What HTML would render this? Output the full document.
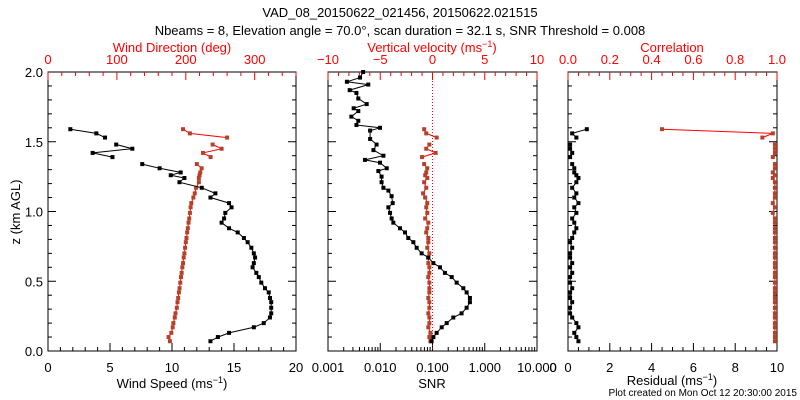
<!DOCTYPE html>
<html><head><meta charset="utf-8"><style>
body{margin:0;background:#fff;}
svg{display:block;font-family:"Liberation Sans",sans-serif;}
</style></head><body>
<svg id="c" width="800" height="400" xmlns="http://www.w3.org/2000/svg">
<text x="400" y="17" font-size="13" text-anchor="middle">VAD_08_20150622_021456, 20150622.021515</text>
<text x="400" y="35" font-size="13" text-anchor="middle">Nbeams = 8, Elevation angle = 70.0°, scan duration = 32.1 s, SNR Threshold = 0.008</text>
<text x="20" y="212" font-size="13" text-anchor="middle" transform="rotate(-90 20 212)">z (km AGL)</text>
<text x="797" y="396" font-size="10" text-anchor="end">Plot created on Mon Oct 12 20:30:00 2015</text>
</svg>
<script>
const heights=[0.07,0.10,0.13,0.17,0.20,0.24,0.27,0.31,0.35,0.38,0.42,0.45,0.49,0.53,0.56,0.60,0.63,0.67,0.70,0.74,0.78,0.81,0.85,0.88,0.92,0.95,0.99,1.03,1.06,1.10,1.13,1.17,1.21,1.24,1.26,1.28,1.31,1.34,null,1.39,1.42,1.45,1.48,null,1.53,1.56,1.59];
const windSpeed=[13.1,13.7,14.6,16.6,17.4,17.9,18.0,18.0,18.0,17.9,17.8,17.5,17.2,17.0,16.8,16.5,16.6,16.7,16.6,16.4,16.1,15.8,15.3,14.6,14.0,14.2,14.3,14.8,14.6,13.1,13.5,12.4,10.6,11.0,9.9,10.7,9.0,7.6,null,5.2,3.6,6.8,5.5,null,4.6,3.9,1.8];
const windDir=[177,175,179,181,182,184,185,187,188,189,190,191,192,193,194,195,196,197,198,199,200,201,202,203,204,205,206,207,208,211,213,215,219,219,220,221,223,216,null,236,225,252,239,null,260,206,196];
const vertVel=[-0.2,-0.3,-0.2,-0.4,-0.3,-0.3,-0.4,-0.3,-0.3,-0.4,-0.3,-0.3,-0.3,-0.4,-0.3,-0.3,-0.4,-0.4,-0.3,-0.5,-0.4,-0.4,-0.6,-0.5,-0.4,-0.7,-0.5,-0.6,-0.5,-0.7,-0.9,-0.6,-0.8,-0.5,-0.7,-0.6,-0.5,-0.8,null,-1.0,0.3,-0.6,-0.3,null,0.4,-0.6,-0.8];
const residual=[0.5,0.4,0.3,0.5,0.4,0.2,0.1,0.1,0.2,0.1,0.1,0.2,0.1,0.1,0.2,0.1,0.2,0.1,0.1,0.2,0.1,0.2,0.3,0.4,0.3,0.2,0.4,0.3,0.5,0.3,0.4,0.2,0.4,0.5,0.4,0.3,0.3,0.2,null,0.1,0.2,0.1,0.1,null,0.4,0.2,0.9];
const correlation=[0.99,0.99,0.99,0.99,0.99,0.99,0.99,0.99,0.99,0.99,0.99,0.99,0.99,0.99,0.99,0.99,0.99,0.99,0.99,0.99,0.99,0.99,0.99,0.99,0.99,0.99,0.98,0.99,0.98,0.99,0.99,0.99,0.99,0.98,0.99,0.98,0.99,0.99,null,0.98,0.99,0.99,0.99,null,0.93,0.98,0.45];
const snrHeights=[0.07,0.10,0.13,0.17,0.20,0.24,0.27,0.31,0.35,0.38,0.42,0.45,0.49,0.53,0.56,0.60,0.63,0.67,0.70,0.74,0.78,0.81,0.85,0.88,0.92,0.95,0.99,1.03,1.06,1.11,1.15,1.17,1.21,1.25,1.29,1.31,1.35,1.37,1.40,1.44,1.48,1.52,1.58,1.60,1.62,1.65,1.68,1.72,1.74,1.77,1.81,1.85,1.87,1.91,1.93,1.96,2.0];
const snr=[0.096,0.104,0.12,0.15,0.187,0.25,0.36,0.45,0.52,0.52,0.45,0.389,0.29,0.233,0.173,0.139,0.104,0.083,0.062,0.0498,0.043,0.0344,0.0298,0.0239,0.0178,0.0165,0.0154,0.0143,0.0173,0.0165,0.0143,0.0115,0.0106,0.0106,0.0092,0.0133,0.0099,0.0051,0.0115,0.0074,0.0085,0.0064,0.0064,0.0099,0.0035,0.0038,0.0028,0.0038,0.0031,0.0055,0.0038,0.0035,0.0026,0.0059,0.0023,0.0041,0.0047];

const NS='http://www.w3.org/2000/svg';
const svg=document.getElementById('c');
const Y0=351,Y1=72;
function yS(z){return Y0-(z-0)/(2-0)*(Y0-Y1);}
function mk(tag,attrs,parent){const e=document.createElementNS(NS,tag);for(const k in attrs)e.setAttribute(k,attrs[k]);(parent||svg).appendChild(e);return e;}
function linX(a,b,x0,x1){return v=>x0+(v-a)/(b-a)*(x1-x0);}
function logX(a,b,x0,x1){return v=>x0+(Math.log10(v)-Math.log10(a))/(Math.log10(b)-Math.log10(a))*(x1-x0);}

function frame(name,x0,x1){
  const r=mk('rect',{x:x0,y:Y1,width:x1-x0,height:Y0-Y1,fill:'none',stroke:'#000','stroke-width':1});
  
  
  for(let i=0;i<=20;i++){const z=i*0.1;const y=yS(z);const L=(i%5==0)?8:4;
    mk('line',{x1:x0,y1:y,x2:x0+L,y2:y,stroke:'#000'});mk('line',{x1:x1,y1:y,x2:x1-L,y2:y,stroke:'#000'});}
}
function xTicks(vals,sc,major,isTop,color){
  const y=isTop?Y1:Y0,d=isTop?1:-1;
  vals.forEach(v=>{const x=sc(v);const L=major(v)?8:4;mk('line',{x1:x,y1:y,x2:x,y2:y+d*L,stroke:color});});
}
function labels(vals,txt,sc,y,color,name){
  vals.forEach((v,i)=>{const t=mk('text',{x:sc(v),y:y,'font-size':13,'text-anchor':'middle',fill:color});t.textContent=txt[i];
    
    });
}
function series(zs,vals,sc,lineCol,markCol,name,drawLine){
  const g=mk('g',{});
  
  
  let seg=[];
  const flush=()=>{if(drawLine&&seg.length>1)mk('polyline',{points:seg.join(' '),fill:'none',stroke:lineCol,'stroke-width':1},g);seg=[];};
  zs.forEach((z,i)=>{if(z==null||vals[i]==null){flush();return;}seg.push(sc(vals[i]).toFixed(1)+','+yS(z).toFixed(1));});
  flush();
  zs.forEach((z,i)=>{if(z==null||vals[i]==null)return;const m=mk('rect',{x:sc(vals[i])-2,y:yS(z)-2,width:4,height:4,fill:markCol},g);
    
    });
}
[0,0.5,1,1.5,2].forEach(z=>{const t=mk('text',{x:43,y:yS(z)+5,'font-size':13,'text-anchor':'end'});t.textContent=z.toFixed(1);
  
  });
const RED='#ff0000',BR='#b5412a';
// Panel 1
const p1x0=48,p1x1=296;
frame('wind-panel',p1x0,p1x1);
const sSp=linX(0,20,p1x0,p1x1),sDir=linX(0,360,p1x0,p1x1);
xTicks([...Array(21).keys()],sSp,v=>v%5==0,false,'#000');
xTicks([...Array(19).keys()].map(i=>i*20),sDir,v=>v%100==0,true,RED);
labels([0,5,10,15,20],['0','5','10','15','20'],sSp,372,'#000','wind-speed-tick');
labels([0,100,200,300],['0','100','200','300'],sDir,64,RED,'wind-dir-tick');
let t=mk('text',{x:172,y:388,'font-size':13,'text-anchor':'middle'});t.innerHTML='Wind Speed (ms<tspan dy="-5" font-size="9">−1</tspan><tspan dy="5">)</tspan>';

t=mk('text',{x:172,y:52,'font-size':13,'text-anchor':'middle',fill:RED});t.textContent='Wind Direction (deg)';

series(heights,windDir,sDir,RED,BR,'wind-direction-series',true);
series(heights,windSpeed,sSp,'#000','#000','wind-speed-series',true);
// Panel 2
const p2x0=328,p2x1=537;
frame('snr-panel',p2x0,p2x1);
const sSnr=logX(0.001,10,p2x0,p2x1),sVV=linX(-10,10,p2x0,p2x1);
const lt=[];for(let e=-3;e<1;e++)for(let m=1;m<10;m++)lt.push(m*Math.pow(10,e));lt.push(10);
xTicks(lt,sSnr,v=>Math.abs(Math.log10(v)-Math.round(Math.log10(v)))<1e-6,false,'#000');
xTicks([...Array(21).keys()].map(i=>i-10),sVV,v=>v%5==0,true,RED);
labels([0.001,0.01,0.1,1,10],['0.001','0.010','0.100','1.000','10.000'],sSnr,372,'#000','snr-tick');
labels([-10,-5,0,5,10],['−10','−5','0','5','10'],sVV,64,RED,'vv-tick');
t=mk('text',{x:432,y:388,'font-size':13,'text-anchor':'middle'});t.textContent='SNR';

t=mk('text',{x:432,y:52,'font-size':13,'text-anchor':'middle',fill:RED});t.innerHTML='Vertical velocity (ms<tspan dy="-5" font-size="9">−1</tspan><tspan dy="5">)</tspan>';

const zl=mk('line',{x1:sVV(0),y1:Y1,x2:sVV(0),y2:Y0,stroke:RED,'stroke-dasharray':'1,2'});

series(heights,vertVel,sVV,RED,BR,'vertical-velocity-series',true);
series(snrHeights,snr,sSnr,'#000','#000','snr-series',true);
// Panel 3
const p3x0=568,p3x1=777;
frame('residual-panel',p3x0,p3x1);
const sRes=linX(0,10,p3x0,p3x1),sCor=linX(0,1,p3x0,p3x1);
xTicks([...Array(21).keys()].map(i=>i*0.5),sRes,v=>Math.abs(v%2)<1e-6,false,'#000');
xTicks([...Array(21).keys()].map(i=>i*0.05),sCor,v=>Math.abs(v*5-Math.round(v*5))<1e-6,true,RED);
labels([0,2,4,6,8,10],['0','2','4','6','8','10'],sRes,372,'#000','residual-tick');
labels([0,0.2,0.4,0.6,0.8,1],['0.0','0.2','0.4','0.6','0.8','1.0'],sCor,64,RED,'correlation-tick');
t=mk('text',{x:553,y:372,'font-size':13,'text-anchor':'middle'});t.textContent='0';

t=mk('text',{x:672,y:385,'font-size':13,'text-anchor':'middle'});t.innerHTML='Residual (ms<tspan dy="-5" font-size="9">−1</tspan><tspan dy="5">)</tspan>';

t=mk('text',{x:672,y:52,'font-size':13,'text-anchor':'middle',fill:RED});t.textContent='Correlation';

series(heights,correlation,sCor,RED,BR,'correlation-series',true);
series(heights,residual,sRes,'#000','#000','residual-series',true);
</script>
</body></html>
